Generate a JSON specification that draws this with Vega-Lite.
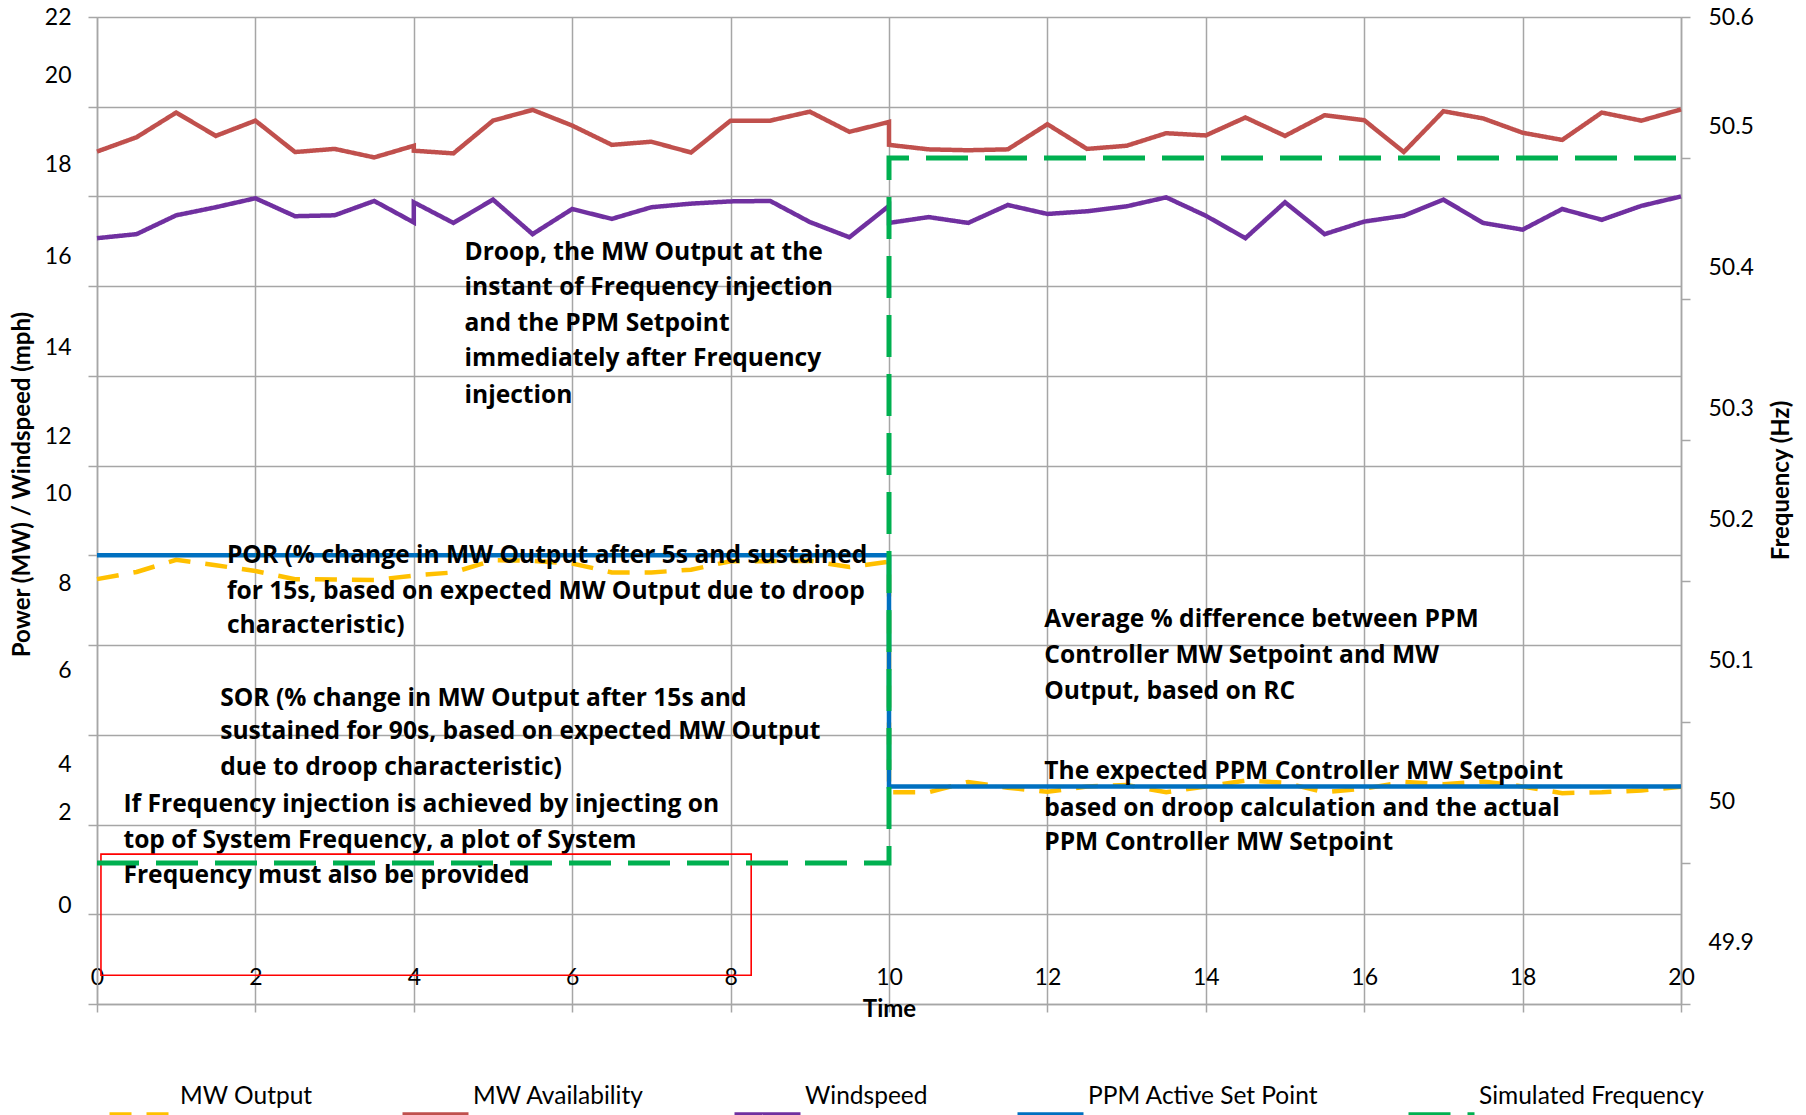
{
"$schema": "https://vega.github.io/schema/vega-lite/v6.json",
"width": 1584, "height": 987,
"autosize": {"type": "none"},
"padding": {"left": 97, "top": 17, "right": 125, "bottom": 111},
"background": "white",
"config": {
  "view": {"stroke": null},
  "font": "Lato",
  "axis": {"labelFont": "Lato", "titleFont": "Lato", "labelColor": "#000000", "titleColor": "#000000", "gridColor": "#A6A6A6", "gridWidth": 1.5, "domainColor": "#A6A6A6", "domainWidth": 1.5, "tickColor": "#A6A6A6", "tickWidth": 1.5, "labelFontSize": 23, "titleFontWeight": "bold", "labelOverlap": false}
},
"resolve": {"scale": {"y": "independent"}},
"layer": [
  {"layer": [
    {
      "data": {"values": [
        {"s":"MW Output","t":0,"v":9.47,"i":0},{"s":"MW Output","t":0.5,"v":9.63,"i":1},{"s":"MW Output","t":1,"v":9.9,"i":2},{"s":"MW Output","t":1.5,"v":9.78,"i":3},{"s":"MW Output","t":2,"v":9.65,"i":4},{"s":"MW Output","t":2.5,"v":9.47,"i":5},{"s":"MW Output","t":3,"v":9.46,"i":6},{"s":"MW Output","t":3.5,"v":9.45,"i":7},{"s":"MW Output","t":4,"v":9.55,"i":8},{"s":"MW Output","t":4.5,"v":9.62,"i":9},{"s":"MW Output","t":5,"v":9.89,"i":10},{"s":"MW Output","t":5.5,"v":9.88,"i":11},{"s":"MW Output","t":6,"v":9.82,"i":12},{"s":"MW Output","t":6.5,"v":9.62,"i":13},{"s":"MW Output","t":7,"v":9.62,"i":14},{"s":"MW Output","t":7.5,"v":9.68,"i":15},{"s":"MW Output","t":8,"v":9.87,"i":16},{"s":"MW Output","t":8.5,"v":9.87,"i":17},{"s":"MW Output","t":9,"v":9.88,"i":18},{"s":"MW Output","t":9.5,"v":9.74,"i":19},{"s":"MW Output","t":10,"v":9.86,"i":20},
        {"s":"MW Output","t":10,"v":4.72,"i":21},{"s":"MW Output","t":10.5,"v":4.72,"i":22},{"s":"MW Output","t":11,"v":4.95,"i":23},{"s":"MW Output","t":11.5,"v":4.82,"i":24},{"s":"MW Output","t":12,"v":4.73,"i":25},{"s":"MW Output","t":12.5,"v":4.85,"i":26},{"s":"MW Output","t":13,"v":4.88,"i":27},{"s":"MW Output","t":13.5,"v":4.72,"i":28},{"s":"MW Output","t":14,"v":4.85,"i":29},{"s":"MW Output","t":14.5,"v":4.98,"i":30},{"s":"MW Output","t":15,"v":4.93,"i":31},{"s":"MW Output","t":15.5,"v":4.72,"i":32},{"s":"MW Output","t":16,"v":4.8,"i":33},{"s":"MW Output","t":16.5,"v":4.95,"i":34},{"s":"MW Output","t":17,"v":4.9,"i":35},{"s":"MW Output","t":17.5,"v":4.96,"i":36},{"s":"MW Output","t":18,"v":4.85,"i":37},{"s":"MW Output","t":18.5,"v":4.7,"i":38},{"s":"MW Output","t":19,"v":4.72,"i":39},{"s":"MW Output","t":19.5,"v":4.76,"i":40},{"s":"MW Output","t":20,"v":4.84,"i":41},
        {"s":"MW Availability","t":0,"v":19.0,"i":0},{"s":"MW Availability","t":0.5,"v":19.32,"i":1},{"s":"MW Availability","t":1,"v":19.87,"i":2},{"s":"MW Availability","t":1.5,"v":19.35,"i":3},{"s":"MW Availability","t":2,"v":19.69,"i":4},{"s":"MW Availability","t":2.5,"v":18.99,"i":5},{"s":"MW Availability","t":3,"v":19.06,"i":6},{"s":"MW Availability","t":3.5,"v":18.87,"i":7},{"s":"MW Availability","t":4,"v":19.13,"i":8},{"s":"MW Availability","t":4,"v":19.02,"i":9},{"s":"MW Availability","t":4.5,"v":18.96,"i":10},{"s":"MW Availability","t":5,"v":19.69,"i":11},{"s":"MW Availability","t":5.5,"v":19.93,"i":12},{"s":"MW Availability","t":6,"v":19.58,"i":13},{"s":"MW Availability","t":6.5,"v":19.15,"i":14},{"s":"MW Availability","t":7,"v":19.22,"i":15},{"s":"MW Availability","t":7.5,"v":18.98,"i":16},{"s":"MW Availability","t":8,"v":19.69,"i":17},{"s":"MW Availability","t":8.5,"v":19.69,"i":18},{"s":"MW Availability","t":9,"v":19.89,"i":19},{"s":"MW Availability","t":9.5,"v":19.44,"i":20},{"s":"MW Availability","t":10,"v":19.66,"i":21},
        {"s":"MW Availability","t":10,"v":19.15,"i":22},{"s":"MW Availability","t":10.5,"v":19.05,"i":23},{"s":"MW Availability","t":11,"v":19.03,"i":24},{"s":"MW Availability","t":11.5,"v":19.05,"i":25},{"s":"MW Availability","t":12,"v":19.61,"i":26},{"s":"MW Availability","t":12.5,"v":19.06,"i":27},{"s":"MW Availability","t":13,"v":19.13,"i":28},{"s":"MW Availability","t":13.5,"v":19.41,"i":29},{"s":"MW Availability","t":14,"v":19.36,"i":30},{"s":"MW Availability","t":14.5,"v":19.76,"i":31},{"s":"MW Availability","t":15,"v":19.35,"i":32},{"s":"MW Availability","t":15.5,"v":19.81,"i":33},{"s":"MW Availability","t":16,"v":19.7,"i":34},{"s":"MW Availability","t":16.5,"v":18.99,"i":35},{"s":"MW Availability","t":17,"v":19.9,"i":36},{"s":"MW Availability","t":17.5,"v":19.74,"i":37},{"s":"MW Availability","t":18,"v":19.42,"i":38},{"s":"MW Availability","t":18.5,"v":19.26,"i":39},{"s":"MW Availability","t":19,"v":19.87,"i":40},{"s":"MW Availability","t":19.5,"v":19.69,"i":41},{"s":"MW Availability","t":20,"v":19.94,"i":42},
        {"s":"Windspeed","t":0,"v":17.07,"i":0},{"s":"Windspeed","t":0.5,"v":17.16,"i":1},{"s":"Windspeed","t":1,"v":17.58,"i":2},{"s":"Windspeed","t":1.5,"v":17.76,"i":3},{"s":"Windspeed","t":2,"v":17.96,"i":4},{"s":"Windspeed","t":2.5,"v":17.56,"i":5},{"s":"Windspeed","t":3,"v":17.58,"i":6},{"s":"Windspeed","t":3.5,"v":17.9,"i":7},{"s":"Windspeed","t":4,"v":17.42,"i":8},{"s":"Windspeed","t":4,"v":17.87,"i":9},{"s":"Windspeed","t":4.5,"v":17.41,"i":10},{"s":"Windspeed","t":5,"v":17.93,"i":11},{"s":"Windspeed","t":5.5,"v":17.16,"i":12},{"s":"Windspeed","t":6,"v":17.72,"i":13},{"s":"Windspeed","t":6.5,"v":17.5,"i":14},{"s":"Windspeed","t":7,"v":17.76,"i":15},{"s":"Windspeed","t":7.5,"v":17.84,"i":16},{"s":"Windspeed","t":8,"v":17.89,"i":17},{"s":"Windspeed","t":8.5,"v":17.9,"i":18},{"s":"Windspeed","t":9,"v":17.43,"i":19},{"s":"Windspeed","t":9.5,"v":17.09,"i":20},{"s":"Windspeed","t":10,"v":17.79,"i":21},
        {"s":"Windspeed","t":10,"v":17.41,"i":22},{"s":"Windspeed","t":10.5,"v":17.54,"i":23},{"s":"Windspeed","t":11,"v":17.41,"i":24},{"s":"Windspeed","t":11.5,"v":17.81,"i":25},{"s":"Windspeed","t":12,"v":17.61,"i":26},{"s":"Windspeed","t":12.5,"v":17.67,"i":27},{"s":"Windspeed","t":13,"v":17.78,"i":28},{"s":"Windspeed","t":13.5,"v":17.98,"i":29},{"s":"Windspeed","t":14,"v":17.57,"i":30},{"s":"Windspeed","t":14.5,"v":17.07,"i":31},{"s":"Windspeed","t":15,"v":17.87,"i":32},{"s":"Windspeed","t":15.5,"v":17.16,"i":33},{"s":"Windspeed","t":16,"v":17.44,"i":34},{"s":"Windspeed","t":16.5,"v":17.57,"i":35},{"s":"Windspeed","t":17,"v":17.93,"i":36},{"s":"Windspeed","t":17.5,"v":17.41,"i":37},{"s":"Windspeed","t":18,"v":17.26,"i":38},{"s":"Windspeed","t":18.5,"v":17.72,"i":39},{"s":"Windspeed","t":19,"v":17.48,"i":40},{"s":"Windspeed","t":19.5,"v":17.79,"i":41},{"s":"Windspeed","t":20,"v":18.0,"i":42},
        {"s":"PPM Active Set Point","t":0,"v":10,"i":0},{"s":"PPM Active Set Point","t":10,"v":10,"i":1},{"s":"PPM Active Set Point","t":10,"v":4.85,"i":2},{"s":"PPM Active Set Point","t":20,"v":4.85,"i":3}
      ]},
      "mark": {"type": "line", "strokeWidth": 4.5},
      "encoding": {
        "x": {"field": "t", "type": "quantitative", "title": "Time", "scale": {"domain": [0, 20], "nice": false},
              "axis": {"values": [0,2,4,6,8,10,12,14,16,18,20], "format": "d", "grid": true, "tickSize": 8, "labelPadding": -35, "labelBaseline": "middle", "labelFlush": false, "titleFontSize": 24, "titleY": 12, "titleBaseline": "alphabetic", "titlePadding": 0}},
        "y": {"field": "v", "type": "quantitative", "title": "Power (MW) / Windspeed (mph)", "scale": {"domain": [0, 22], "nice": false, "zero": false},
              "axis": {"orient": "left", "values": [0,2,4,6,8,10,12,14,16,18,20,22], "format": "d", "grid": true, "tickSize": 9, "labelPadding": 17, "titleFontSize": 24, "titleX": -75, "titleY": 467, "titleAngle": -90, "titleBaseline": "middle", "titleAlign": "center",
                       "labelOffset": {"expr": "datum.value == 22 ? 0 : datum.value == 20 ? -31 : datum.value == 18 ? -32 : datum.value == 16 ? -30 : datum.value == 14 ? -28 : datum.value == 12 ? -29 : datum.value == 10 ? -62 : datum.value == 8 ? -62 : datum.value == 6 ? -64 : datum.value == 4 ? -60 : datum.value == 2 ? -102 : -99"}}},
        "color": {"field": "s", "type": "nominal",
                  "scale": {"domain": ["MW Output","MW Availability","Windspeed","PPM Active Set Point","Simulated Frequency"], "range": ["#FFC000","#C0504D","#7030A0","#0070C0","#00B050"]},
                  "legend": {"orient": "none", "legendX": 10, "legendY": 1062, "direction": "horizontal", "title": null, "symbolType": "stroke", "symbolSize": 4356, "symbolStrokeWidth": 5, "labelFontSize": 24.5, "labelFont": "Lato", "labelColor": "#000000", "labelLimit": 400, "labelOffset": 2, "columnPadding": 79, "padding": 0,
                             "encode": {"labels": {"update": {"dy": {"value": -18}}}}}},
        "strokeDash": {"field": "s", "type": "nominal",
                  "scale": {"domain": ["MW Output","MW Availability","Windspeed","PPM Active Set Point","Simulated Frequency"], "range": [[22,15],[1,0],[1,0],[1,0],[42,17]]},
                  "legend": {"orient": "none", "legendX": 10, "legendY": 1062, "direction": "horizontal", "title": null, "symbolType": "stroke", "symbolSize": 4356, "symbolStrokeWidth": 5, "labelFontSize": 24.5, "labelFont": "Lato", "labelColor": "#000000", "labelLimit": 400, "labelOffset": 2, "columnPadding": 79, "padding": 0,
                             "encode": {"labels": {"update": {"dy": {"value": -18}}}}}},
        "order": {"field": "i", "type": "quantitative"}
      }
    },
    {
      "data": {"values": [
        {"t":4.64,"v":16.59,"label":"Droop, the MW Output at the"},
        {"t":4.64,"v":15.81,"label":"instant of Frequency injection"},
        {"t":4.64,"v":15.01,"label":"and the PPM Setpoint"},
        {"t":4.64,"v":14.21,"label":"immediately after Frequency"},
        {"t":4.64,"v":13.40,"label":"injection"},
        {"t":1.64,"v":9.83,"label":"POR (% change in MW Output after 5s and sustained"},
        {"t":1.64,"v":9.03,"label":"for 15s, based on expected MW Output due to droop"},
        {"t":1.64,"v":8.26,"label":"characteristic)"},
        {"t":1.556,"v":6.64,"label":"SOR (% change in MW Output after 15s and"},
        {"t":1.556,"v":5.90,"label":"sustained for 90s, based on expected MW Output"},
        {"t":1.556,"v":5.10,"label":"due to droop characteristic)"},
        {"t":0.334,"v":4.28,"label":"If Frequency injection is achieved by injecting on"},
        {"t":0.334,"v":3.48,"label":"top of System Frequency, a plot of System"},
        {"t":0.334,"v":2.69,"label":"Frequency must also be provided"},
        {"t":11.96,"v":8.41,"label":"Average % difference between PPM"},
        {"t":11.96,"v":7.59,"label":"Controller MW Setpoint and MW"},
        {"t":11.96,"v":6.79,"label":"Output, based on RC"},
        {"t":11.96,"v":5.02,"label":"The expected PPM Controller MW Setpoint"},
        {"t":11.96,"v":4.20,"label":"based on droop calculation and the actual"},
        {"t":11.96,"v":3.43,"label":"PPM Controller MW Setpoint"}
      ]},
      "mark": {"type": "text", "align": "left", "baseline": "alphabetic", "font": "Open Sans", "fontWeight": "bold", "fontSize": 24.6, "color": "#000000"},
      "encoding": {
        "x": {"field": "t", "type": "quantitative", "title": "Time"},
        "y": {"field": "v", "type": "quantitative", "title": "Power (MW) / Windspeed (mph)"},
        "text": {"field": "label", "type": "nominal"}
      }
    },
    {
      "data": {"values": [{"a": 0.05, "b": 8.26, "c": 0.64, "d": 3.34}]},
      "mark": {"type": "rect", "fillOpacity": 0, "stroke": "#FF0000", "strokeWidth": 1.6},
      "encoding": {
        "x": {"field": "a", "type": "quantitative", "title": "Time"},
        "x2": {"field": "b"},
        "y": {"field": "c", "type": "quantitative", "title": "Power (MW) / Windspeed (mph)"},
        "y2": {"field": "d"}
      }
    }
  ]},
  {
    "data": {"values": [
      {"s":"Simulated Frequency","t":0,"f":50.0,"i":0},
      {"s":"Simulated Frequency","t":10,"f":50.0,"i":1},
      {"s":"Simulated Frequency","t":10,"f":50.5,"i":2},
      {"s":"Simulated Frequency","t":20,"f":50.5,"i":3}
    ]},
    "mark": {"type": "line", "strokeWidth": 5},
    "encoding": {
      "x": {"field": "t", "type": "quantitative", "title": "Time"},
      "y": {"field": "f", "type": "quantitative", "title": "Frequency (Hz)", "scale": {"domain": [49.9, 50.6], "nice": false, "zero": false},
            "axis": {"orient": "right", "values": [49.9,50,50.1,50.2,50.3,50.4,50.5,50.6], "format": "~g", "grid": false, "tickSize": 9, "labelPadding": 18, "titleFontSize": 24, "titleX": 100, "titleY": 463, "titleAngle": 270, "titleBaseline": "middle", "titleAlign": "center",
                     "labelOffset": {"expr": "datum.value > 50.55 ? 0 : datum.value > 50.25 ? -32 : -61.5"}}},
      "color": {"field": "s", "type": "nominal"},
      "strokeDash": {"field": "s", "type": "nominal"},
      "order": {"field": "i", "type": "quantitative"}
    }
  }
]
}
